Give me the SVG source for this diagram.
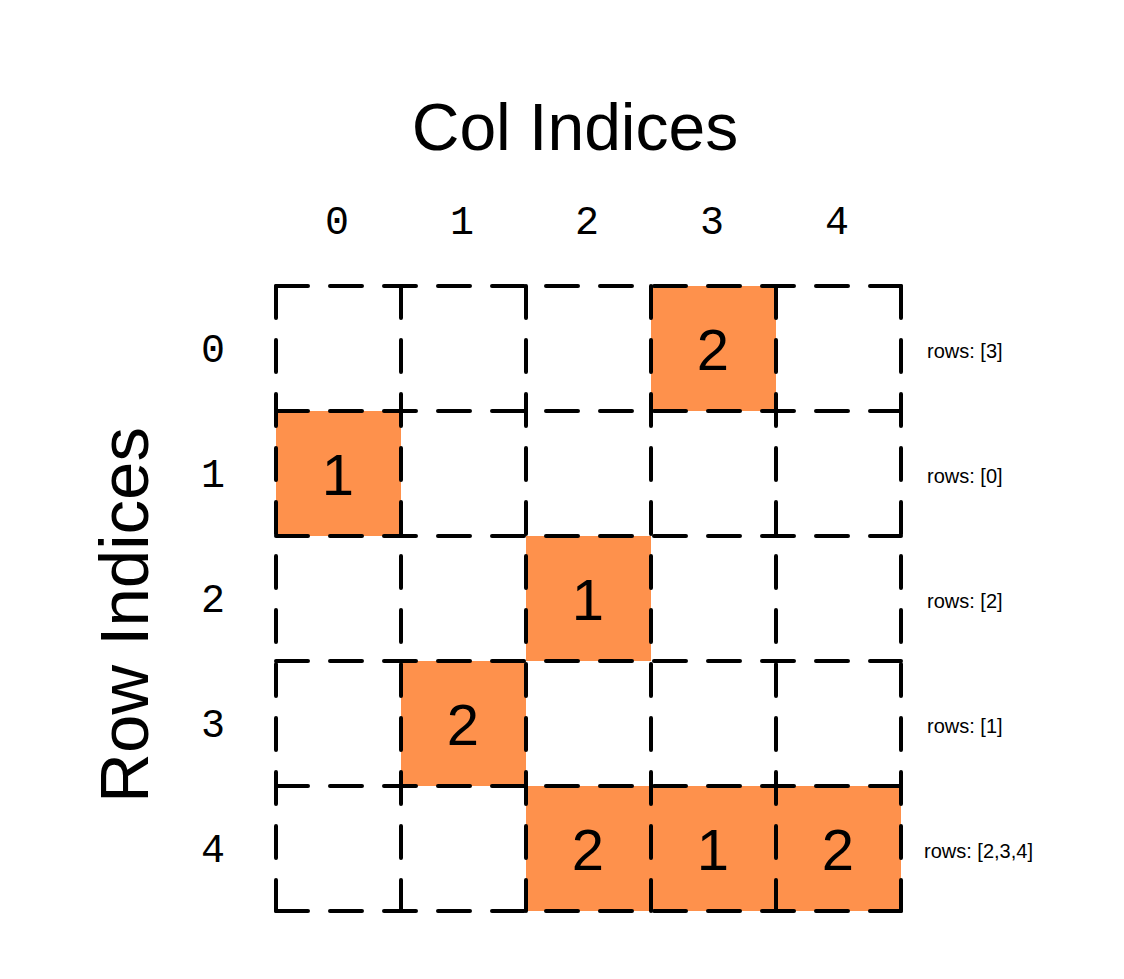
<svg xmlns="http://www.w3.org/2000/svg" width="1124" height="979" viewBox="0 0 1124 979">
  <style>
    .title { font-family: "Liberation Sans", Arial, sans-serif; font-size: 66px; fill: #000; }
    .title-v { font-family: "Liberation Sans", Arial, sans-serif; font-size: 69px; fill: #000; }
    .idx { font-family: "Liberation Mono", "DejaVu Sans Mono", monospace; font-size: 40px; fill: #000; text-anchor: middle; }
    .val { font-family: "Liberation Sans", Arial, sans-serif; font-size: 58px; fill: #000; text-anchor: middle; }
    .rows { font-family: "Liberation Sans", Arial, sans-serif; font-size: 20px; fill: #000; }
    .fill { fill: #FE914C; }
    .grid line { stroke: #000; stroke-width: 4; stroke-dasharray: 32 22; stroke-linecap: round; fill: none; }
  </style>
  <rect width="1124" height="979" fill="#fff"/>

  <g id="title-col"><text class="title" x="575" y="150" text-anchor="middle">Col Indices</text></g>
  <g id="title-row"><text class="title-v" x="148" y="615" text-anchor="middle" transform="rotate(-90 148 615)">Row Indices</text></g>

  <g id="col-labels">
    <text class="idx" x="337" y="234">0</text>
    <text class="idx" x="462" y="234">1</text>
    <text class="idx" x="587" y="234">2</text>
    <text class="idx" x="712" y="234">3</text>
    <text class="idx" x="837" y="234">4</text>
  </g>
  <g id="row-labels">
    <text class="idx" x="213" y="362">0</text>
    <text class="idx" x="213" y="487">1</text>
    <text class="idx" x="213" y="612">2</text>
    <text class="idx" x="213" y="737">3</text>
    <text class="idx" x="213" y="862">4</text>
  </g>

  <g id="cell-0-3"><rect class="fill" x="651" y="286" width="125" height="125"/><text class="val" x="713" y="370">2</text></g>
  <g id="cell-1-0"><rect class="fill" x="276" y="411" width="125" height="125"/><text class="val" x="338" y="495">1</text></g>
  <g id="cell-2-2"><rect class="fill" x="526" y="536" width="125" height="125"/><text class="val" x="588" y="620">1</text></g>
  <g id="cell-3-1"><rect class="fill" x="401" y="661" width="125" height="125"/><text class="val" x="463" y="745">2</text></g>
  <g id="cell-4-2"><rect class="fill" x="526" y="786" width="125" height="125"/><text class="val" x="588" y="870">2</text></g>
  <g id="cell-4-3"><rect class="fill" x="651" y="786" width="125" height="125"/><text class="val" x="713" y="870">1</text></g>
  <g id="cell-4-4"><rect class="fill" x="776" y="786" width="125" height="125"/><text class="val" x="838" y="870">2</text></g>

  <g id="grid" class="grid">
    <line x1="276" y1="286" x2="901" y2="286"/>
    <line x1="276" y1="411" x2="901" y2="411"/>
    <line x1="276" y1="536" x2="901" y2="536"/>
    <line x1="276" y1="661" x2="901" y2="661"/>
    <line x1="276" y1="786" x2="901" y2="786"/>
    <line x1="276" y1="911" x2="901" y2="911"/>
    <line x1="276" y1="286" x2="276" y2="911"/>
    <line x1="401" y1="286" x2="401" y2="911"/>
    <line x1="526" y1="286" x2="526" y2="911"/>
    <line x1="651" y1="286" x2="651" y2="911"/>
    <line x1="776" y1="286" x2="776" y2="911"/>
    <line x1="901" y1="286" x2="901" y2="911"/>
  </g>

  <g id="row-notes">
    <text class="rows" x="927" y="358">rows: [3]</text>
    <text class="rows" x="927" y="483">rows: [0]</text>
    <text class="rows" x="927" y="608">rows: [2]</text>
    <text class="rows" x="927" y="733">rows: [1]</text>
    <text class="rows" x="924" y="858">rows: [2,3,4]</text>
  </g>
</svg>
